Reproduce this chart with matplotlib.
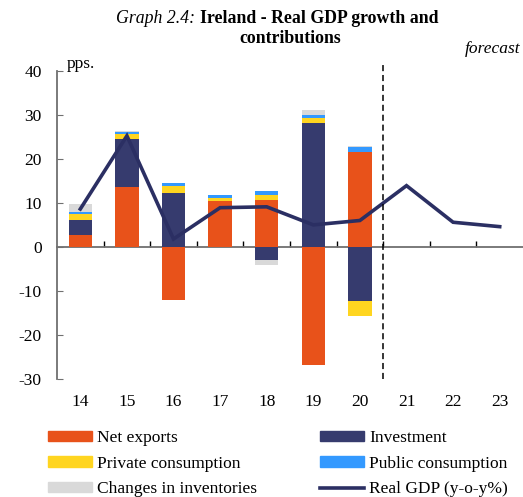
import numpy as np
import matplotlib.pyplot as plt
from matplotlib.patches import Patch
from matplotlib.lines import Line2D

plt.rcParams['font.family'] = ['Liberation Serif', 'DejaVu Serif']
plt.rcParams['axes.unicode_minus'] = False

# data (pps. contributions)
years = ['14', '15', '16', '17', '18', '19', '20', '21', '22', '23']
net_exports = [2.7, 13.5, -12.0, 10.5, 10.7, -26.7, 21.5]
investment = [3.4, 11.0, 12.2, 0.0, -2.9, 28.2, -12.3]
private_cons = [1.3, 1.1, 1.7, 0.7, 1.1, 1.1, -3.3]
public_cons = [0.6, 0.5, 0.6, 0.6, 0.8, 0.7, 1.2]
inventories = [1.7, 0.3, 0.0, 0.0, -1.1, 1.1, 0.3]
real_gdp = [8.6, 25.2, 1.8, 8.9, 9.1, 5.0, 6.0, 13.9, 5.6, 4.6]

series = [
    ('Net exports', net_exports, '#E8521A'),
    ('Investment', investment, '#363B6E'),
    ('Private consumption', private_cons, '#FFD520'),
    ('Public consumption', public_cons, '#3399FF'),
    ('Changes in inventories', inventories, '#D9D9D9'),
]
gdp_color = '#2B2F63'
fs = 12.5

fig = plt.figure(figsize=(5.23, 4.97), dpi=100)
ax = fig.add_axes([0.109, 0.237, 0.891, 0.621])

x = np.arange(len(years))
n = len(net_exports)
pos_base = np.zeros(n)
neg_base = np.zeros(n)
for name, vals, col in series:
    v = np.array(vals)
    bottoms = np.where(v >= 0, pos_base, neg_base)
    ax.bar(x[:n], v, 0.5, bottom=bottoms, color=col, linewidth=0, zorder=2)
    pos_base += np.where(v >= 0, v, 0)
    neg_base += np.where(v < 0, v, 0)

ax.plot(x, real_gdp, color=gdp_color, lw=2.6, zorder=3, solid_joinstyle='miter')

# forecast divider
ax.axvline(6.5, ymin=0, ymax=1.02, color='black', lw=1.1, ls=(0, (4, 2.5)),
           clip_on=False, zorder=4)

ax.set_xlim(-0.5, 9.5)
ax.set_ylim(-30, 40)
ax.set_yticks(range(-30, 41, 10))
ax.set_xticks(x)
ax.set_xticklabels(years)
ax.tick_params(axis='x', length=0, pad=11, labelsize=fs)
ax.tick_params(axis='y', direction='in', length=4, color='#707070',
               pad=11, labelsize=fs)
for s in ['top', 'right', 'bottom']:
    ax.spines[s].set_visible(False)
ax.spines['left'].set_color('#707070')
ax.spines['left'].set_linewidth(1.3)

# zero line with small tick marks between categories
sec = ax.secondary_xaxis(30 / 70)
sec.set_xticks(x[:-1] + 0.5)
sec.set_xticklabels([])
sec.tick_params(direction='in', length=4, color='black', width=1)
sec.spines['bottom'].set_color('#707070')
sec.spines['bottom'].set_linewidth(1.3)
sec.spines['bottom'].set_zorder(5)

ax.text(0.02, 41.5, 'pps.', fontsize=fs, va='center', ha='left',
        transform=ax.get_yaxis_transform())

fig.text(0.382, 0.962, 'Graph 2.4: ', style='italic', ha='right', va='center', fontsize=12.8)
fig.text(0.382, 0.962, 'Ireland - Real GDP growth and', weight='bold', ha='left',
         va='center', fontsize=12.8)
fig.text(0.555, 0.922, 'contributions', weight='bold', ha='center', va='center', fontsize=12.8)
fig.text(0.995, 0.902, 'forecast', style='italic', ha='right', va='center', fontsize=fs)

handles = [Patch(color=series[0][2]), Patch(color=series[2][2]), Patch(color=series[4][2]),
           Patch(color=series[1][2]), Patch(color=series[3][2]),
           Line2D([], [], color=gdp_color, lw=2.6)]
labels = ['Net exports', 'Private consumption', 'Changes in inventories',
          'Investment', 'Public consumption', 'Real GDP (y-o-y%)']
fig.legend(handles, labels, ncol=2, loc='upper left', bbox_to_anchor=(0.092, 0.135),
           frameon=False, fontsize=fs, handlelength=2.53, handleheight=0.55,
           handletextpad=0.29, columnspacing=3.65, labelspacing=0.56,
           borderpad=0, borderaxespad=0)

fig.savefig('out.png', dpi=100)
